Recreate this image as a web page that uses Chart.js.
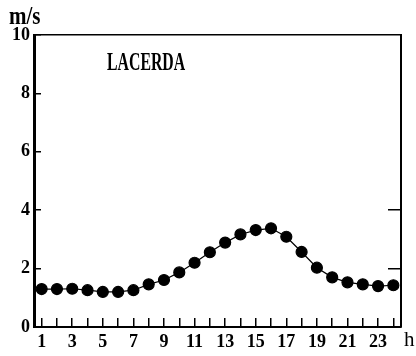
<!DOCTYPE html>
<html>
<head>
<meta charset="utf-8">
<script src="https://cdn.jsdelivr.net/npm/chart.js@4.4.3/dist/chart.umd.min.js"></script>
<style>
  html, body { margin: 0; padding: 0; background: #fff; }
  .wrap { position: relative; width: 416px; height: 356px; }
  .lbl { position: absolute; font-family: "Liberation Serif", serif; color: #000; white-space: nowrap; transform-origin: 0 0; }
</style>
</head>
<body>
<div class="wrap">
  <canvas class="windChart" width="416" height="356"></canvas>
  <div class="lbl" style="left:9px;top:1px;font-size:21px;font-weight:bold;transform:scale(1,1.2)">m/s</div>
  <div class="lbl" style="left:107px;top:48px;font-size:17px;font-weight:bold;transform:scale(0.93,1.45)">LACERDA</div>
  <div class="lbl" style="left:404px;top:327px;font-size:21px">h</div>
</div>
<script>
const hours = [1, 2, 3, 4, 5, 6, 7, 8, 9, 10, 11, 12, 13, 14, 15, 16, 17, 18, 19, 20, 21, 22, 23, 24];
const speeds = [1.30, 1.30, 1.31, 1.26, 1.20, 1.20, 1.26, 1.46, 1.61, 1.87, 2.20, 2.56,
                2.89, 3.17, 3.32, 3.38, 3.09, 2.57, 2.03, 1.70, 1.53, 1.46, 1.40, 1.43];
const yTicks = [0, 2, 4, 6, 8, 10];
const rightTicks = [2, 4];

const ctx = document.querySelector('.windChart');
const tickFont = { family: '"Liberation Serif", serif', size: 18, weight: 'bold' };

new Chart(ctx, {
    type: 'line',
    data: {
        datasets: [{
            data: hours.map((h, i) => ({ x: h, y: speeds[i] })),
            borderColor: '#000',
            borderWidth: 1.2,
            pointRadius: 5.5,
            pointBackgroundColor: '#000',
            pointBorderColor: '#000',
            tension: 0
        }]
    },
    options: {
        responsive: false,
        animation: false,
        layout: { padding: { top: 35, right: 15, left: 0, bottom: 0 } },
        plugins: { legend: { display: false }, tooltip: { enabled: false } },
        scales: {
            x: {
                type: 'linear', position: 'bottom', min: 0.5, max: 24.5,
                afterBuildTicks: s => { s.ticks = hours.map(v => ({ value: v })); },
                afterFit: s => { s.height = 29; },
                border: { color: '#000', width: 2 },
                grid: { drawOnChartArea: false, tickLength: -9, color: '#000', lineWidth: 1.5 },
                ticks: {
                    color: '#000', font: tickFont, padding: 14, autoSkip: false, maxRotation: 0,
                    callback: v => (v % 2 === 1 ? String(v) : '')
                }
            },
            xTop: {
                type: 'linear', position: 'top', min: 0.5, max: 24.5,
                afterFit: s => { s.height = 0; },
                border: { color: '#000', width: 1.5 },
                grid: { display: false, drawTicks: false },
                ticks: { display: false }
            },
            y: {
                min: 0, max: 10,
                afterBuildTicks: s => { s.ticks = yTicks.map(v => ({ value: v })); },
                afterFit: s => { s.width = 34; },
                border: { color: '#000', width: 3 },
                grid: { drawOnChartArea: false, tickLength: -7, color: '#000', lineWidth: 1.5 },
                ticks: { color: '#000', font: tickFont, padding: 11 }
            },
            yRight: {
                position: 'right', min: 0, max: 10,
                afterBuildTicks: s => { s.ticks = rightTicks.map(v => ({ value: v })); },
                afterFit: s => { s.width = 0; },
                border: { color: '#000', width: 2 },
                grid: { drawOnChartArea: false, tickLength: -13, color: '#000', lineWidth: 1.5 },
                ticks: { display: false }
            }
        }
    }
});
</script>
</body>
</html>
